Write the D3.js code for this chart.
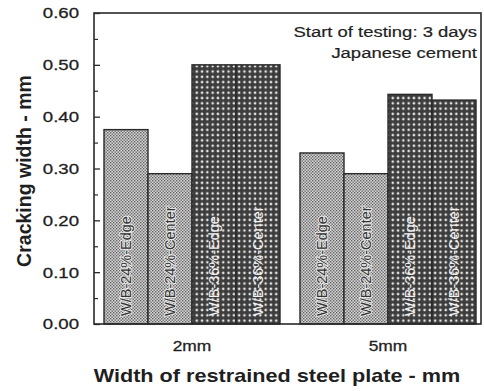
<!DOCTYPE html>
<html>
<head>
<meta charset="utf-8">
<script src="https://cdn.jsdelivr.net/npm/d3@7"></script>
<style>
  html, body { margin: 0; padding: 0; background: #fff; }
  svg { display: block; }
  text { font-family: "Liberation Sans", Arial, Helvetica, sans-serif; fill: #1f1f1f; }
</style>
</head>
<body>
<svg id="chart" width="484" height="391"></svg>
<script>
// Plate widths (groups) and mix/position series
const plateWidths = ["2mm", "5mm"];
const seriesNames = ["W/B-24%-Edge", "W/B-24%-Center", "W/B-36%-Edge", "W/B-36%-Center"];
// Cracking width (mm) per plate width, in series order
const crack2mm = [0.375, 0.29, 0.50, 0.50];
const crack5mm = [0.33, 0.29, 0.443, 0.432];
const yTicks = [0, 0.1, 0.2, 0.3, 0.4, 0.5, 0.6];
const yMinorTicks = [0.05, 0.15, 0.25, 0.35, 0.45, 0.55];
const noteLines = ["Start of testing: 3 days", "Japanese cement"];

const rows = [crack2mm, crack5mm];
const svg = d3.select("#chart");

const frame = { left: 94, right: 481, top: 13, bottom: 324 };

// Horizontal glyph widening used for the upright labels
function widen(sel, k) {
  sel.each(function () {
    const w = this.getComputedTextLength();
    d3.select(this).attr("textLength", w * k).attr("lengthAdjust", "spacingAndGlyphs");
  });
}

// Fill patterns
const defs = svg.append("defs");
const light = defs.append("pattern").attr("id", "lightDots")
  .attr("patternUnits", "userSpaceOnUse").attr("width", 3).attr("height", 3);
light.append("rect").attr("width", 3).attr("height", 3).attr("fill", "#d6d6d6");
light.append("rect").attr("x", 0).attr("y", 0).attr("width", 1.35).attr("height", 1.35).attr("fill", "#5e5e5e");
light.append("rect").attr("x", 1.5).attr("y", 1.5).attr("width", 1.35).attr("height", 1.35).attr("fill", "#5e5e5e");

const dark = defs.append("pattern").attr("id", "darkDots")
  .attr("patternUnits", "userSpaceOnUse").attr("width", 5.3).attr("height", 5.3);
dark.append("rect").attr("width", 5.3).attr("height", 5.3).attr("fill", "#3d3d3d");
dark.append("circle").attr("cx", 2.65).attr("cy", 2.65).attr("r", 1.3).attr("fill", "#e6e6e6");

const fills = ["url(#lightDots)", "url(#lightDots)", "url(#darkDots)", "url(#darkDots)"];

// Scales
const y = d3.scaleLinear().domain([0, 0.6]).range([frame.bottom, frame.top]);
const x0 = d3.scaleBand().domain(plateWidths).range([104, 476]).paddingInner(0.102).paddingOuter(0);
const x1 = d3.scaleBand().domain(seriesNames).range([0, x0.bandwidth()]).padding(0);

// Bars
const groups = svg.append("g").selectAll("g")
  .data(plateWidths.map((p, i) => ({ p, vals: rows[i] })))
  .join("g")
  .attr("transform", d => `translate(${x0(d.p)},0)`);

groups.selectAll("rect")
  .data(d => d.vals.map((v, j) => ({ name: seriesNames[j], v, j })))
  .join("rect")
  .attr("x", d => x1(d.name))
  .attr("y", d => y(d.v))
  .attr("width", x1.bandwidth())
  .attr("height", d => y(0) - y(d.v))
  .attr("fill", d => fills[d.j])
  .attr("stroke", "#2a2a2a")
  .attr("stroke-width", 1.4);

// Series names written inside each bar
groups.selectAll("text.barlabel")
  .data(d => d.vals.map((v, j) => ({ name: seriesNames[j], v, j })))
  .join("text")
  .attr("class", "barlabel")
  .attr("transform", d => `translate(${x1(d.name) + x1.bandwidth() / 2 + 5},${y(0) - 8}) rotate(-90)`)
  .attr("text-anchor", "start")
  .attr("font-size", 14.5)
  .style("fill", d => d.j < 2 ? "#333" : "#f2f2f2")
  .style("stroke", d => d.j < 2 ? "rgba(255,255,255,0.7)" : "none")
  .style("stroke-width", 2)
  .style("paint-order", "stroke")
  .text(d => d.name);

// Frame
svg.append("rect")
  .attr("x", frame.left).attr("y", frame.top)
  .attr("width", frame.right - frame.left).attr("height", frame.bottom - frame.top)
  .attr("fill", "none").attr("stroke", "#2a2a2a").attr("stroke-width", 1.6);

// Y axis: major ticks with labels, minor ticks between
const yAxis = svg.append("g")
  .attr("transform", `translate(${frame.left},0)`)
  .call(d3.axisLeft(y).tickValues(yTicks).tickFormat(d3.format(".2f"))
    .tickSizeInner(-6).tickSizeOuter(0).tickPadding(15));
yAxis.select(".domain").remove();
yAxis.selectAll(".tick line").attr("stroke", "#2a2a2a").attr("stroke-width", 1.3);
yAxis.selectAll(".tick text")
  .attr("font-size", 15.5)
  .attr("font-family", null)
  .style("fill", "#1f1f1f")
  .style("stroke", "#1f1f1f")
  .style("stroke-width", 0.3)
  .call(widen, 1.2);

const yMinor = svg.append("g")
  .attr("transform", `translate(${frame.left},0)`)
  .call(d3.axisLeft(y).tickValues(yMinorTicks).tickFormat("").tickSizeInner(-4).tickSizeOuter(0));
yMinor.select(".domain").remove();
yMinor.selectAll(".tick line").attr("stroke", "#2a2a2a").attr("stroke-width", 1.2);

// Category labels under each group
svg.append("g").selectAll("text")
  .data(plateWidths)
  .join("text")
  .attr("x", d => x0(d) + x0.bandwidth() / 2)
  .attr("y", 351)
  .attr("text-anchor", "middle")
  .attr("font-size", 14.5)
  .style("stroke", "#1f1f1f")
  .style("stroke-width", 0.3)
  .text(d => d)
  .call(widen, 1.2);

// Axis titles
svg.append("text")
  .attr("x", 277).attr("y", 382)
  .attr("text-anchor", "middle")
  .attr("font-size", 18.5)
  .attr("font-weight", "bold")
  .text("Width of restrained steel plate - mm")
  .call(widen, 1.17);

svg.append("text")
  .attr("transform", "translate(31,171) rotate(-90)")
  .attr("text-anchor", "middle")
  .attr("font-size", 19.5)
  .attr("font-weight", "bold")
  .text("Cracking width - mm");

// Test conditions note
svg.append("g").selectAll("text")
  .data(noteLines)
  .join("text")
  .attr("x", 477)
  .attr("y", (d, i) => 37 + i * 21)
  .attr("text-anchor", "end")
  .attr("font-size", 15.5)
  .style("stroke", "#1f1f1f")
  .style("stroke-width", 0.2)
  .text(d => d)
  .call(widen, 1.19);
</script>
</body>
</html>
